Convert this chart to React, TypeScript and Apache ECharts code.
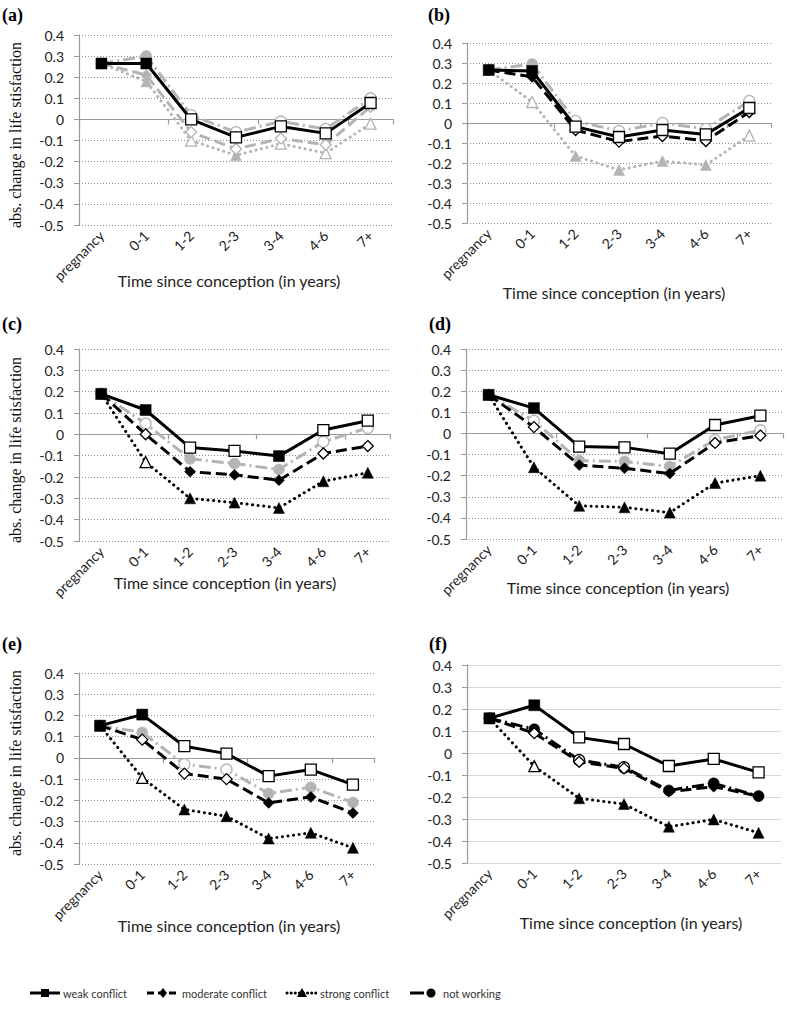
import React, { useEffect, useRef } from "react";
import * as echarts from "echarts";

const categories = ["pregnancy", "0-1", "1-2", "2-3", "3-4", "4-6", "7+"];
const seriesNames = ["weak conflict", "moderate conflict", "strong conflict", "not working"];
const yMin = -0.5;
const yMax = 0.4;
const yStep = 0.1;
const yTitle = "abs. change in life stisfaction";
const xTitle = "Time since conception (in years)";

// panel (a)
const aWeak = [0.265, 0.265, 0.0, -0.085, -0.033, -0.066, 0.078];
const aModerate = [0.265, 0.21, -0.06, -0.14, -0.09, -0.12, 0.06];
const aStrong = [0.265, 0.18, -0.1, -0.17, -0.115, -0.16, -0.02];
const aNotWorking = [0.265, 0.3, 0.02, -0.06, -0.01, -0.045, 0.1];
const aWeakSig = [1, 1, 0, 0, 0, 0, 0];
const aModerateSig = [1, 1, 0, 0, 0, 0, 0];
const aStrongSig = [1, 1, 0, 1, 0, 0, 0];
const aNotWorkingSig = [1, 1, 0, 0, 0, 0, 0];

// panel (b)
const bWeak = [0.265, 0.26, -0.018, -0.07, -0.035, -0.057, 0.075];
const bModerate = [0.265, 0.23, -0.035, -0.093, -0.065, -0.09, 0.055];
const bStrong = [0.265, 0.105, -0.165, -0.235, -0.19, -0.21, -0.063];
const bNotWorking = [0.265, 0.295, 0.01, -0.04, 0.0, -0.03, 0.11];
const bWeakSig = [1, 1, 0, 0, 0, 0, 0];
const bModerateSig = [1, 1, 0, 0, 0, 0, 0];
const bStrongSig = [1, 0, 1, 1, 1, 1, 0];
const bNotWorkingSig = [1, 1, 0, 0, 0, 0, 0];

// panel (c)
const cWeak = [0.19, 0.114, -0.062, -0.078, -0.102, 0.02, 0.064];
const cModerate = [0.19, 0.0, -0.175, -0.19, -0.215, -0.09, -0.055];
const cStrong = [0.19, -0.13, -0.3, -0.32, -0.345, -0.22, -0.18];
const cNotWorking = [0.19, 0.05, -0.115, -0.137, -0.165, -0.035, 0.03];
const cWeakSig = [1, 1, 0, 0, 1, 0, 0];
const cModerateSig = [1, 0, 1, 1, 1, 0, 0];
const cStrongSig = [1, 0, 1, 1, 1, 1, 1];
const cNotWorkingSig = [1, 0, 1, 1, 1, 0, 0];

// panel (d)
const dWeak = [0.183, 0.12, -0.062, -0.066, -0.096, 0.04, 0.084];
const dModerate = [0.183, 0.03, -0.15, -0.165, -0.19, -0.045, -0.01];
const dStrong = [0.183, -0.16, -0.343, -0.35, -0.375, -0.235, -0.2];
const dNotWorking = [0.183, 0.06, -0.128, -0.133, -0.156, -0.03, 0.015];
const dWeakSig = [1, 1, 0, 0, 0, 0, 0];
const dModerateSig = [1, 0, 1, 1, 1, 0, 0];
const dStrongSig = [1, 1, 1, 1, 1, 1, 1];
const dNotWorkingSig = [1, 0, 1, 1, 1, 0, 0];

// panel (e)
const eWeak = [0.152, 0.204, 0.055, 0.02, -0.086, -0.055, -0.126];
const eModerate = [0.152, 0.086, -0.074, -0.1, -0.212, -0.184, -0.26];
const eStrong = [0.152, -0.094, -0.243, -0.275, -0.38, -0.353, -0.424];
const eNotWorking = [0.152, 0.12, -0.03, -0.055, -0.168, -0.138, -0.21];
const eWeakSig = [1, 1, 0, 0, 0, 0, 0];
const eModerateSig = [1, 0, 0, 0, 1, 1, 1];
const eStrongSig = [1, 0, 1, 1, 1, 1, 1];
const eNotWorkingSig = [1, 1, 0, 0, 1, 1, 1];

// panel (f)
const fWeak = [0.158, 0.217, 0.071, 0.041, -0.059, -0.027, -0.088];
const fModerate = [0.158, 0.09, -0.04, -0.07, -0.176, -0.153, -0.196];
const fStrong = [0.158, -0.06, -0.206, -0.232, -0.335, -0.302, -0.363];
const fNotWorking = [0.158, 0.108, -0.032, -0.065, -0.17, -0.138, -0.196];
const fWeakSig = [1, 1, 0, 0, 0, 0, 0];
const fModerateSig = [1, 0, 0, 0, 1, 1, 1];
const fStrongSig = [1, 0, 1, 1, 1, 1, 1];
const fNotWorkingSig = [1, 1, 0, 0, 1, 1, 1];

const BLACK = "#000000";
const GREY = "#b4b4b4";
const SANS = "Lato, 'Open Sans', sans-serif";
const SERIF = "'Liberation Serif', 'DejaVu Serif', serif";

type Panel = {
  label: string;
  labelX: number;
  labelY: number;
  grid: { left: number; top: number; width: number; height: number };
  values: number[][];
  sig: number[][];
  colors: string[];
  yTitleY?: number;
  xTitleX: number;
  xTitleY: number;
  solidGrid?: boolean;
};

const panels: Panel[] = [
  {
    label: "(a)", labelX: 2, labelY: 15,
    grid: { left: 79, top: 35, width: 314, height: 190 },
    values: [aWeak, aModerate, aStrong, aNotWorking],
    sig: [aWeakSig, aModerateSig, aStrongSig, aNotWorkingSig],
    colors: [BLACK, GREY, GREY, GREY],
    yTitleY: 135, xTitleX: 229, xTitleY: 280,
  },
  {
    label: "(b)", labelX: 428, labelY: 15,
    grid: { left: 467, top: 43, width: 304, height: 180 },
    values: [bWeak, bModerate, bStrong, bNotWorking],
    sig: [bWeakSig, bModerateSig, bStrongSig, bNotWorkingSig],
    colors: [BLACK, BLACK, GREY, GREY],
    xTitleX: 614, xTitleY: 292,
  },
  {
    label: "(c)", labelX: 2, labelY: 324,
    grid: { left: 79, top: 349, width: 311, height: 192 },
    values: [cWeak, cModerate, cStrong, cNotWorking],
    sig: [cWeakSig, cModerateSig, cStrongSig, cNotWorkingSig],
    colors: [BLACK, BLACK, BLACK, GREY],
    yTitleY: 450, xTitleX: 225, xTitleY: 582,
  },
  {
    label: "(d)", labelX: 429, labelY: 324,
    grid: { left: 466, top: 349, width: 317, height: 190 },
    values: [dWeak, dModerate, dStrong, dNotWorking],
    sig: [dWeakSig, dModerateSig, dStrongSig, dNotWorkingSig],
    colors: [BLACK, BLACK, BLACK, GREY],
    xTitleX: 618, xTitleY: 587,
  },
  {
    label: "(e)", labelX: 2, labelY: 644,
    grid: { left: 79, top: 673, width: 295, height: 191 },
    values: [eWeak, eModerate, eStrong, eNotWorking],
    sig: [eWeakSig, eModerateSig, eStrongSig, eNotWorkingSig],
    colors: [BLACK, BLACK, BLACK, GREY],
    yTitleY: 763, xTitleX: 229, xTitleY: 925,
  },
  {
    label: "(f)", labelX: 429, labelY: 644,
    grid: { left: 467, top: 665, width: 314, height: 198 },
    values: [fWeak, fModerate, fStrong, fNotWorking],
    sig: [fWeakSig, fModerateSig, fStrongSig, fNotWorkingSig],
    colors: [BLACK, BLACK, BLACK, BLACK],
    xTitleX: 631, xTitleY: 922, solidGrid: true,
  },
];

const symbols = ["rect", "diamond", "triangle", "circle"];
const symbolSizes = [11, 11, 11, 11];
const lineTypes: any[] = ["solid", [11, 5], [0.1, 5.5], [12, 4, 2, 4]];
const lineWidths = [3, 3, 3, 3];
const drawOrder = [3, 2, 1, 0];

function buildOption() {
  const grids: any[] = [];
  const xAxes: any[] = [];
  const yAxes: any[] = [];
  const series: any[] = [];
  const graphic: any[] = [];

  panels.forEach((p, gi) => {
    grids.push({ ...p.grid });
    xAxes.push({
      type: "category", gridIndex: gi, data: categories, position: "bottom",
      boundaryGap: true,
      axisLine: { show: false, onZero: false },
      axisTick: { show: false },
      axisLabel: { rotate: 45, fontFamily: SANS, fontSize: 14, color: "#222", margin: 8, interval: 0 },
      splitLine: { show: false },
    });
    xAxes.push({
      type: "category", gridIndex: gi, data: categories, position: "bottom",
      boundaryGap: true,
      show: !p.solidGrid,
      axisLine: { show: true, onZero: true, lineStyle: { color: "#9a9a9a", width: 1.2 } },
      axisTick: { show: true, inside: false, length: 5, lineStyle: { color: "#9a9a9a", width: 1.2 } },
      axisLabel: { show: false },
      splitLine: { show: false },
    });
    yAxes.push({
      type: "value", gridIndex: gi, min: yMin, max: yMax, interval: yStep,
      axisLine: { show: true, lineStyle: { color: "#9a9a9a", width: 1.2 } },
      axisTick: { show: true, length: 5, lineStyle: { color: "#9a9a9a" } },
      axisLabel: {
        fontFamily: SANS, fontSize: 14, color: "#222", margin: 15,
        formatter: (v: number) => String(Math.round(v * 10) / 10),
      },
      splitLine: {
        show: true,
        lineStyle: p.solidGrid
          ? { color: "#d9d9d9", width: 1, type: "solid" }
          : { color: "#8c8c8c", width: 1, type: [1, 2] },
      },
    });

    drawOrder.forEach((si) => {
      const color = p.colors[si];
      const vals = p.values[si];
      const sig = p.sig[si];
      series.push({
        type: "line",
        name: seriesNames[si],
        xAxisIndex: gi * 2,
        yAxisIndex: gi,
        symbol: symbols[si],
        symbolSize: symbolSizes[si],
        z: color === BLACK ? 4 : 3,
        lineStyle: { color, width: lineWidths[si], type: lineTypes[si], cap: si === 2 ? "round" : "butt" },
        itemStyle: { color },
        data: vals.map((v, i) => ({
          value: v,
          itemStyle: sig[i]
            ? { color, borderColor: color, borderWidth: 0.5 }
            : { color: "#ffffff", borderColor: color, borderWidth: 1.3 },
        })),
      });
    });

    graphic.push({
      type: "text", x: p.labelX, y: p.labelY,
      style: { text: p.label, font: `bold 18px ${SERIF}`, fill: "#000", verticalAlign: "middle", align: "left" },
    });
    if (p.yTitleY !== undefined) {
      graphic.push({
        type: "text", x: 15, y: p.yTitleY, rotation: Math.PI / 2,
        style: { text: yTitle, font: `16px ${SERIF}`, fill: "#111", verticalAlign: "middle", align: "center" },
      });
    }
    graphic.push({
      type: "text", x: p.xTitleX, y: p.xTitleY,
      style: { text: xTitle, font: `16px ${SANS}`, fill: "#222", verticalAlign: "middle", align: "center" },
    });
  });

  // legend
  const ly = 993;
  const legendItems = [
    { x0: 30, x1: 60, mx: 45, tx: 63, si: 0 },
    { x0: 147, x1: 177, mx: 163, tx: 182, si: 1 },
    { x0: 287, x1: 317, mx: 302, tx: 320, si: 2 },
    { x0: 410, x1: 424, mx: 431, tx: 443, si: 3 },
  ];
  legendItems.forEach((it) => {
    const dash = it.si === 1 ? [7, 4] : it.si === 2 ? [0.1, 4] : null;
    graphic.push({
      type: "line",
      shape: { x1: it.x0, y1: ly, x2: it.x1, y2: ly },
      style: { stroke: "#000", lineWidth: 3, lineDash: dash, lineCap: it.si === 2 ? "round" : "butt" },
    });
    if (it.si === 0) {
      graphic.push({ type: "rect", shape: { x: it.mx - 4, y: ly - 4, width: 8, height: 8 }, style: { fill: "#000" } });
    } else if (it.si === 1) {
      graphic.push({ type: "polygon", shape: { points: [[it.mx, ly - 5], [it.mx + 4, ly], [it.mx, ly + 5], [it.mx - 4, ly]] }, style: { fill: "#000" } });
    } else if (it.si === 2) {
      graphic.push({ type: "polygon", shape: { points: [[it.mx, ly - 5], [it.mx + 5, ly + 4], [it.mx - 5, ly + 4]] }, style: { fill: "#000" } });
    } else {
      graphic.push({ type: "circle", shape: { cx: it.mx, cy: ly, r: 4.5 }, style: { fill: "#000" } });
    }
    graphic.push({
      type: "text", x: it.tx, y: ly,
      style: { text: seriesNames[it.si], font: `11px ${SANS}`, fill: "#333", verticalAlign: "middle", align: "left" },
    });
  });

  return {
    animation: false,
    backgroundColor: "#ffffff",
    grid: grids,
    xAxis: xAxes,
    yAxis: yAxes,
    series,
    graphic,
  };
}

export default function App() {
  const ref = useRef<HTMLDivElement>(null);
  useEffect(() => {
    if (!ref.current) return;
    const chart = echarts.init(ref.current, undefined, { renderer: "svg" });
    chart.setOption(buildOption());
    return () => chart.dispose();
  }, []);
  return (
    <div
      ref={ref}
      style={{ position: "absolute", left: 0, top: 0, width: 788, height: 1011, background: "#fff" }}
    />
  );
}
